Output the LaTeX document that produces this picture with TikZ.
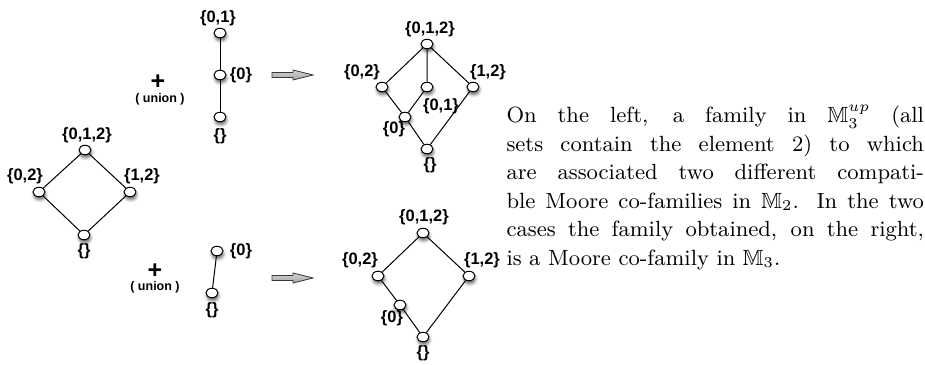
\documentclass[tikz,border=0pt]{standalone}
\usepackage{amssymb}
\usepackage{fontspec}
\setsansfont{Liberation Sans}
\usetikzlibrary{shapes.geometric,shadows.blur}

\tikzset{
  elem/.style={ellipse, draw, fill=white, line width=0.4pt, inner sep=0pt,
    minimum width=4.8pt, minimum height=3.8pt,
    blur shadow={shadow xshift=0.3pt, shadow yshift=-1.2pt, shadow blur radius=1.2pt, shadow opacity=60}},
  lab/.style={font=\sffamily\bfseries\fontsize{6.6}{7}\selectfont, inner sep=0pt},
  plussign/.style={font=\sffamily\bfseries\fontsize{10}{10}\selectfont, inner sep=0pt},
  unionlab/.style={font=\sffamily\bfseries\fontsize{5}{6}\selectfont, inner sep=0pt},
  grayarr/.style={draw=gray!45!black, line width=0.3pt, top color=gray!35, bottom color=gray!70},
  desc/.style={text width=167pt, align=justify, inner sep=0pt,
    font=\fontsize{8.8}{11.4}\selectfont\addfontfeatures{LetterSpace=3}}
}

\begin{document}
\begin{tikzpicture}[x=0.4pt, y=-0.4pt]
\useasboundingbox (0,0) rectangle (925,365);

% left lattice
\begin{scope}
\node[elem] (L012) at (85,150) {};
\node[elem] (L02) at (39,192) {};
\node[elem] (L12) at (130,192) {};
\node[elem] (Lnil) at (84,235) {};
\draw (L012) -- (L02) -- (Lnil) -- (L12) -- (L012);
\node[lab] (tL012) at (87,135) {\{0,1,2\}};
\node[lab] (tL02) at (25,176) {\{0,2\}};
\node[lab] (tL12) at (142,176) {\{1,2\}};
\node[lab] (tLnil) at (84,251) {\{\}};
\end{scope}

% upper case
\begin{scope}
\node[plussign] (plusA) at (158,82) {+};
\node[unionlab] (unionA) at (160,99) {( union )};
\node[elem] (C01) at (220,33) {};
\node[elem] (C0) at (220,75) {};
\node[elem] (Cnil) at (220,117) {};
\draw (C01) -- (C0) -- (Cnil);
\node[lab] (tC01) at (218,18) {\{0,1\}};
\node[lab] (tC0) at (241,75) {\{0\}};
\node[lab] (tCnil) at (220,136) {\{\}};
\filldraw[grayarr] (272,72.5) -- (293,72.5) -- (293,70) -- (313,75)
  -- (293,80) -- (293,77.5) -- (272,77.5) -- cycle;
\node[elem] (R012) at (427,44) {};
\node[elem] (R02) at (382,87) {};
\node[elem] (R01) at (427,87) {};
\node[elem] (R12) at (473,87) {};
\node[elem] (R0) at (405,117) {};
\node[elem] (Rnil) at (427,149) {};
\draw (R012) -- (R02) -- (R0) -- (Rnil) -- (R12) -- (R012) -- (R01) -- (R0);
\node[lab] (tR012) at (430,29) {\{0,1,2\}};
\node[lab] (tR02) at (362,72) {\{0,2\}};
\node[lab] (tR12) at (488,72) {\{1,2\}};
\node[lab] (tR01) at (441,106) {\{0,1\}};
\node[lab] (tR0) at (394,129) {\{0\}};
\node[lab] (tRnil) at (430,165) {\{\}};
\end{scope}

% lower case
\begin{scope}
\node[plussign] (plusB) at (155,271) {+};
\node[unionlab] (unionB) at (155,287) {( union )};
\node[elem] (D0) at (217,251) {};
\node[elem] (Dnil) at (212,293) {};
\draw (D0) -- (Dnil);
\node[lab] (tD0) at (241,251) {\{0\}};
\node[lab] (tDnil) at (212,310) {\{\}};
\filldraw[grayarr] (272,275.5) -- (293,275.5) -- (293,273) -- (313,278)
  -- (293,283) -- (293,280.5) -- (272,280.5) -- cycle;
\node[elem] (S012) at (423,233) {};
\node[elem] (S02) at (378,276) {};
\node[elem] (S12) at (469,276) {};
\node[elem] (S0) at (400,305) {};
\node[elem] (Snil) at (423,337) {};
\draw (S012) -- (S02) -- (S0) -- (Snil) -- (S12) -- (S012);
\node[lab] (tS012) at (424,217) {\{0,1,2\}};
\node[lab] (tS02) at (360,260) {\{0,2\}};
\node[lab] (tS12) at (482,260) {\{1,2\}};
\node[lab] (tS0) at (392,318) {\{0\}};
\node[lab] (tSnil) at (423,353) {\{\}};
\end{scope}

\node[desc, anchor=north west] (caption) at (506,105) {On the left, a family in
  $\mathbb{M}_3^{up}$ (all\linebreak sets contain the element 2) to which\linebreak
  are associated two different compati-\linebreak ble Moore co-families in
  $\mathbb{M}_2$. In the two\linebreak cases the family obtained, on the right,\linebreak
  is a Moore co-family in $\mathbb{M}_3$.};
\end{tikzpicture}
\end{document}
